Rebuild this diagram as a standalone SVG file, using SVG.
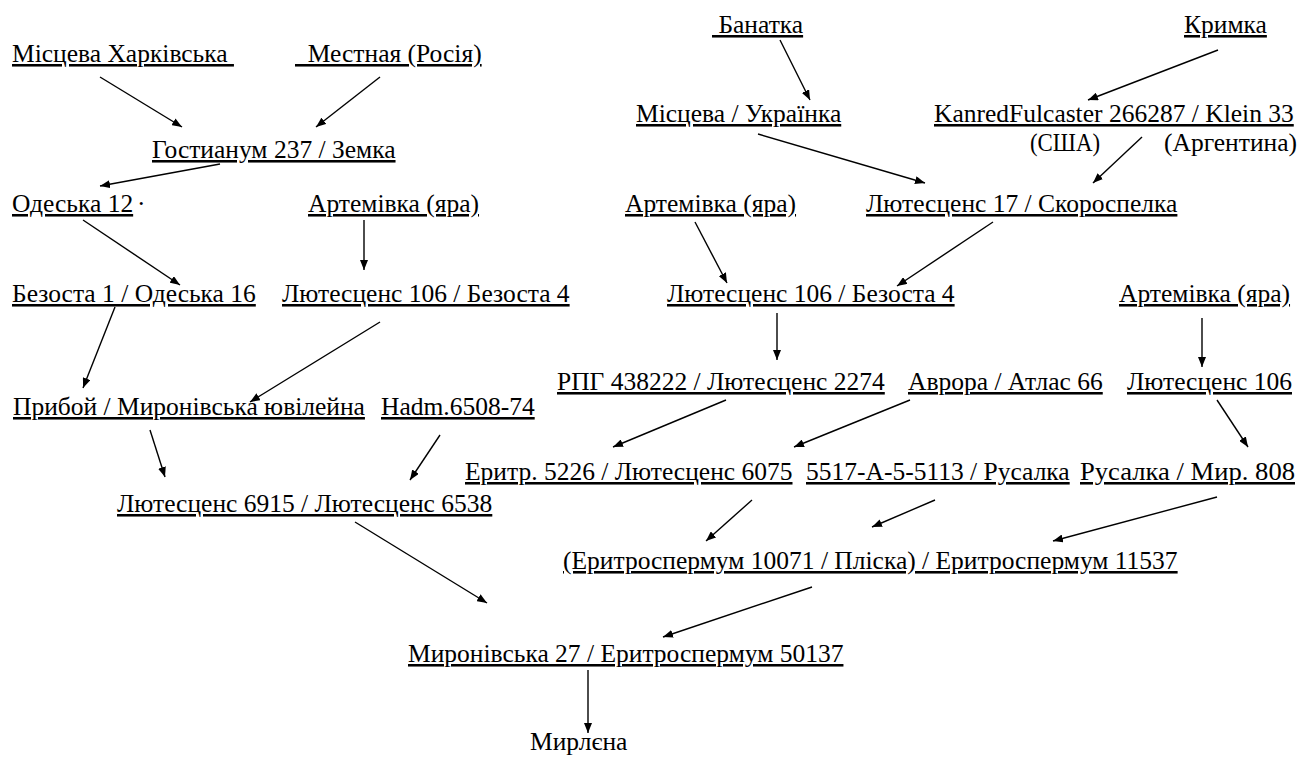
<svg xmlns="http://www.w3.org/2000/svg" width="1312" height="758" viewBox="0 0 1312 758">
<defs>
<marker id="ah" viewBox="0 0 10 8" refX="10" refY="4" markerWidth="10" markerHeight="8" markerUnits="userSpaceOnUse" orient="auto">
<path d="M0,0 L10,4 L0,8 Z" fill="#000"/>
</marker>
<style>
.u{text-decoration:underline}
.c line{stroke:#000;stroke-width:1.4;marker-end:url(#ah)}
</style>
</defs>
<rect width="1312" height="758" fill="#fff"/>
<g font-family="Liberation Serif, serif" font-size="25.5" fill="#000">
<g id="n1"><text class="u" x="12" y="62" xml:space="preserve">Місцева Харківська </text></g>
<g id="n2"><text class="u" x="295" y="62" xml:space="preserve">  Местная (Росія)</text></g>
<g id="n3"><text class="u" x="152" y="158">Гостианум 237 / Земка</text></g>
<g id="n4"><text class="u" x="12" y="212">Одеська 12</text><text x="137" y="212">·</text></g>
<g id="n5"><text class="u" x="308" y="212">Артемівка (яра)</text></g>
<g id="n6"><text class="u" x="12" y="302">Безоста 1 / Одеська 16</text></g>
<g id="n7"><text class="u" x="282" y="302">Лютесценс 106 / Безоста 4</text></g>
<g id="n8"><text class="u" x="13" y="415">Прибой / Миронівська ювілейна</text></g>
<g id="n9"><text class="u" x="381" y="415">Hadm.6508-74</text></g>
<g id="n10"><text class="u" x="117" y="512">Лютесценс 6915 / Лютесценс 6538</text></g>
<g id="n11"><text class="u" x="712" y="33" xml:space="preserve"> Банатка</text></g>
<g id="n12"><text class="u" x="1184" y="33">Кримка</text></g>
<g id="n13"><text class="u" x="636" y="122">Місцева / Українка</text></g>
<g id="n14"><text class="u" x="934" y="122">KanredFulcaster 266287 / Klein 33</text><text x="1030" y="151" textLength="70" lengthAdjust="spacingAndGlyphs">(США)</text><text x="1164" y="151">(Аргентина)</text></g>
<g id="n15"><text class="u" x="625" y="212">Артемівка (яра)</text></g>
<g id="n16"><text class="u" x="866" y="212">Лютесценс 17 / Скороспелка</text></g>
<g id="n17"><text class="u" x="667" y="302">Лютесценс 106 / Безоста 4</text></g>
<g id="n18"><text class="u" x="1119" y="302">Артемівка (яра)</text></g>
<g id="n19"><text class="u" x="557" y="390">РПГ 438222 / Лютесценс 2274</text></g>
<g id="n20"><text class="u" x="908" y="390">Аврора / Атлас 66</text></g>
<g id="n21"><text class="u" x="1127" y="390">Лютесценс 106</text></g>
<g id="n22"><text class="u" x="465" y="480">Еритр. 5226 / Лютесценс 6075</text></g>
<g id="n23"><text class="u" x="806" y="480">5517-А-5-5113 / Русалка</text></g>
<g id="n24"><text class="u" x="1080" y="480" textLength="215" lengthAdjust="spacingAndGlyphs">Русалка / Мир. 808</text></g>
<g id="n25"><text class="u" x="563" y="569">(Еритроспермум 10071 / Пліска) / Еритроспермум 11537</text></g>
<g id="n26"><text class="u" x="408" y="662">Миронівська 27 / Еритроспермум 50137</text></g>
<g id="n27"><text x="530" y="750">Мирлєна</text></g>
</g>
<g id="connectors" class="c">
<line x1="100" y1="77" x2="182" y2="127"/>
<line x1="380" y1="77" x2="316" y2="127"/>
<line x1="220" y1="164" x2="100" y2="186"/>
<line x1="83" y1="220" x2="180" y2="285"/>
<line x1="364" y1="220" x2="364" y2="270"/>
<line x1="115" y1="307" x2="83" y2="388"/>
<line x1="380" y1="322" x2="250" y2="402"/>
<line x1="150" y1="430" x2="165" y2="477"/>
<line x1="440" y1="435" x2="410" y2="480"/>
<line x1="355" y1="522" x2="487" y2="603"/>
<line x1="780" y1="40" x2="810" y2="100"/>
<line x1="1218" y1="50" x2="1088" y2="100"/>
<line x1="758" y1="134" x2="925" y2="183"/>
<line x1="1142" y1="137" x2="1093" y2="183"/>
<line x1="695" y1="222" x2="727" y2="283"/>
<line x1="993" y1="222" x2="897" y2="286"/>
<line x1="777" y1="313" x2="777" y2="360"/>
<line x1="1202" y1="318" x2="1202" y2="367"/>
<line x1="726" y1="400" x2="613" y2="447"/>
<line x1="910" y1="400" x2="794" y2="447"/>
<line x1="1217" y1="400" x2="1248" y2="447"/>
<line x1="752" y1="500" x2="706" y2="541"/>
<line x1="935" y1="500" x2="872" y2="527"/>
<line x1="1217" y1="497" x2="1053" y2="541"/>
<line x1="812" y1="587" x2="663" y2="637"/>
<line x1="588" y1="670" x2="588" y2="733"/>
</g>
</svg>
